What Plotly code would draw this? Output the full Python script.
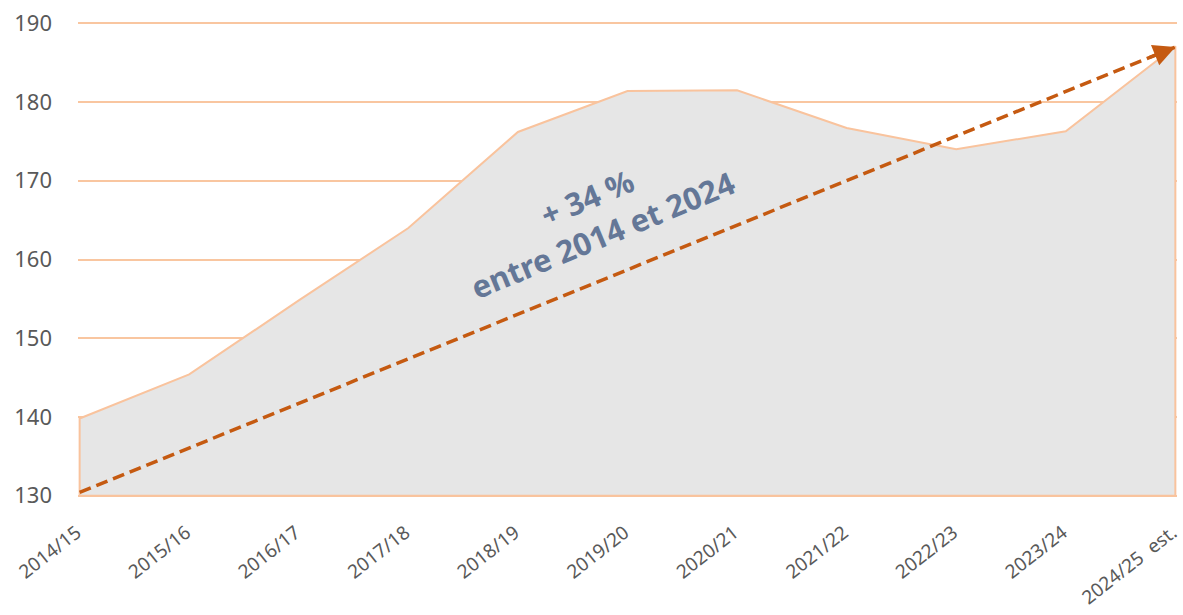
import plotly.graph_objects as go

categories = ["2014/15", "2015/16", "2016/17", "2017/18", "2018/19", "2019/20",
              "2020/21", "2021/22", "2022/23", "2023/24", "2024/25  est."]
values = [139.8, 145.4, 154.8, 164.0, 176.2, 181.4, 181.5, 176.7, 174.0, 176.3, 187.1]
trend_start = 130.4
trend_end = 187.0
y_ticks = [130, 140, 150, 160, 170, 180, 190]
annot_text = "+ 34 %<br>entre 2014 et 2024"

base = y_ticks[0]
idx = list(range(len(categories)))
last = idx[-1]

LINE_C = "#f9c39d"
GRID_C = "#f9c6a0"
ARROW_C = "#c55a11"
TEXT_C = "#595959"
FONT = "Noto Sans"

fig = go.Figure()

# area polygon (closed, bordered)
fig.add_trace(go.Scatter(
    x=[idx[0]] + idx + [last, idx[0]],
    y=[base] + values + [base, base],
    mode="lines", fill="toself", fillcolor="#e6e6e6",
    line=dict(color=LINE_C, width=2), hoverinfo="skip", showlegend=False,
    cliponaxis=False,
))

# dashed trend line
fig.add_trace(go.Scatter(
    x=[idx[0], last], y=[trend_start, trend_end], mode="lines",
    line=dict(color=ARROW_C, width=3.5, dash="12px,6px"),
    hoverinfo="skip", showlegend=False, cliponaxis=False,
))

# arrowhead
dx = 0.25
slope = (trend_end - trend_start) / (last - idx[0])
fig.add_annotation(
    x=last, y=trend_end, ax=last - dx, ay=trend_end - slope * dx,
    xref="x", yref="y", axref="x", ayref="y",
    showarrow=True, arrowhead=2, arrowsize=1.25, arrowwidth=3.5,
    arrowcolor=ARROW_C, text="",
)

fig.add_annotation(
    x=4.7, y=165.5, xref="x", yref="y", text="<b>" + annot_text + "</b>",
    showarrow=False, textangle=-22.5,
    font=dict(family=FONT, size=31, color="#647797"),
    xanchor="center", yanchor="middle",
)

fig.update_layout(
    width=1183, height=615,
    margin=dict(l=78, r=6, t=21, b=117),
    plot_bgcolor="white", paper_bgcolor="white",
    font=dict(family=FONT, color=TEXT_C),
    showlegend=False,
)
fig.update_xaxes(
    range=[idx[0] - 0.015, last + 0.015], tickvals=idx, ticktext=categories,
    tickangle=-38, showgrid=False, zeroline=False, showline=False, ticks="",
    tickfont=dict(size=19, color=TEXT_C), automargin=False,
    ticklabeloverflow="allow", ticklabelstandoff=19, ticklabelshift=-3,
)
fig.update_yaxes(
    range=[y_ticks[0] - 0.3, y_ticks[-1] + 0.3], tickvals=y_ticks,
    showgrid=True, gridcolor=GRID_C, gridwidth=2, zeroline=False,
    showline=False, ticks="", ticklabelstandoff=25, automargin=False,
    tickfont=dict(size=22, color=TEXT_C), ticklabeloverflow="allow",
)

fig.write_html("out.html", config={"displayModeBar": False},
               post_script="document.body.style.margin='0';")
